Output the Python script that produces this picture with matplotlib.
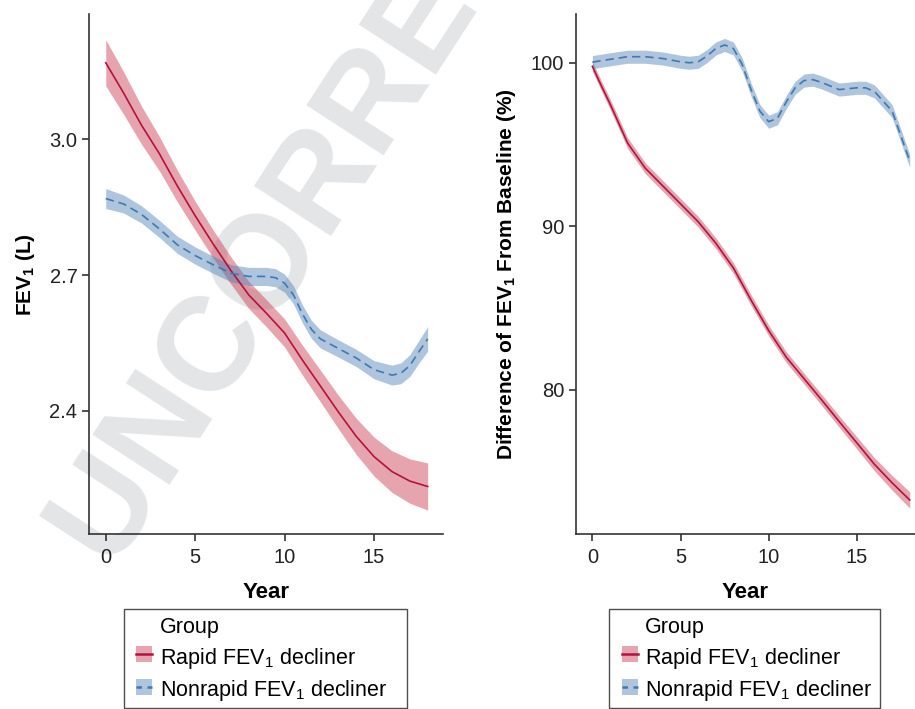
import matplotlib
matplotlib.use("Agg")
import matplotlib.pyplot as plt
from matplotlib.lines import Line2D
from matplotlib.patches import Patch, Rectangle
from matplotlib.legend_handler import HandlerPatch, HandlerTuple
import numpy as np

plt.rcParams['font.family'] = ['Liberation Sans', 'DejaVu Sans']
plt.rcParams['mathtext.default'] = 'regular'

# ---- data ----
# left panel: FEV1 (L)
years_l = [0, 1, 2, 3, 4, 5, 6, 7, 8, 9, 10, 11, 12, 13, 14, 15, 16, 17, 18]
rapid_fev = [3.169, 3.102, 3.031, 2.968, 2.897, 2.831, 2.769, 2.71, 2.656, 2.615,
             2.572, 2.512, 2.455, 2.398, 2.344, 2.299, 2.266, 2.245, 2.233]
rapid_fev_ci = [0.051, 0.047, 0.042, 0.038, 0.035, 0.032, 0.031, 0.03, 0.03, 0.03,
                0.031, 0.033, 0.035, 0.037, 0.04, 0.043, 0.046, 0.049, 0.052]

years_nl = [0, 1, 2, 3, 4, 5, 6, 7, 8, 9, 9.5, 10, 10.5, 11, 11.5, 12, 13, 14, 15, 16,
            16.5, 17, 17.5, 18]
nonrapid_fev = [2.869, 2.857, 2.834, 2.802, 2.767, 2.743, 2.723, 2.704, 2.697, 2.697,
                2.694, 2.682, 2.656, 2.614, 2.58, 2.559, 2.538, 2.517, 2.491, 2.479,
                2.483, 2.5, 2.53, 2.559]
nonrapid_fev_ci = [0.022, 0.02, 0.019, 0.019, 0.019, 0.019, 0.019, 0.019, 0.02, 0.02,
                   0.02, 0.02, 0.02, 0.02, 0.02, 0.02, 0.019, 0.019, 0.02, 0.022,
                   0.023, 0.024, 0.025, 0.027]

# right panel: difference from baseline (%)
years_r = [0, 0.5, 1, 2, 3, 4, 5, 6, 7, 8, 9, 10, 11, 12, 13, 14, 15, 16, 17, 18]
rapid_pct = [99.77, 98.6, 97.48, 95.08, 93.55, 92.46, 91.37, 90.28, 88.97, 87.45, 85.49,
             83.63, 82.0, 80.7, 79.4, 78.07, 76.77, 75.46, 74.33, 73.28]
rapid_pct_ci = [0.3, 0.3, 0.32, 0.33, 0.33, 0.33, 0.33, 0.33, 0.33, 0.33, 0.33,
                0.33, 0.33, 0.33, 0.34, 0.35, 0.37, 0.4, 0.45, 0.5]

years_nr = [0, 1, 2, 3, 4, 5, 5.5, 6, 6.5, 7, 7.5, 8, 8.5, 9, 9.5, 10, 10.5, 11, 11.5,
            12, 12.5, 13, 14, 15, 15.5, 16, 17, 18]
nonrapid_pct = [100.03, 100.2, 100.36, 100.36, 100.25, 100.05, 99.99, 100.05, 100.4,
                100.86, 101.08, 100.86, 99.88, 98.35, 97.04, 96.39, 96.6, 97.6, 98.46,
                98.9, 98.96, 98.79, 98.35, 98.46, 98.46, 98.24, 97.04, 94.0]
nonrapid_pct_ci = 0.4

group_labels = ['Group', r'Rapid FEV$_1$ decliner', r'Nonrapid FEV$_1$ decliner']

red_line = '#b3123f'
red_fill = '#c9394c'
blue_line = '#3d7ab0'
blue_fill = '#4d7fb5'

fig = plt.figure(figsize=(9.15, 7.09), dpi=100)

# watermark behind everything
fig.text(0.1235, 0.192, 'UNCORRECTED PROOF', rotation=57, rotation_mode='anchor',
         ha='left', va='baseline', fontsize=96, fontweight='bold', color='#e4e5e7',
         zorder=-1)

ax1 = fig.add_axes([0.0976, 0.2468, 0.387, 0.733])
ax2 = fig.add_axes([0.6295, 0.2468, 0.3705, 0.733])


def draw(ax, x, y, ci, line_c, fill_c, ls):
    x = np.array(x)
    y = np.array(y)
    ci = np.array(ci)
    ax.fill_between(x, y - ci, y + ci, color=fill_c, alpha=0.45, lw=0)
    ax.plot(x, y, color=line_c, lw=1.2, ls=ls)


draw(ax1, years_l, rapid_fev, rapid_fev_ci, red_line, red_fill, '-')
draw(ax1, years_nl, nonrapid_fev, nonrapid_fev_ci, blue_line, blue_fill, (0, (5, 3)))
draw(ax2, years_r, rapid_pct, rapid_pct_ci, red_line, red_fill, '-')
draw(ax2, years_nr, nonrapid_pct, nonrapid_pct_ci, blue_line, blue_fill, (0, (5, 3)))

ax1.set_xlim(-0.92, 18.88)
ax1.set_ylim(2.128, 3.276)
ax1.set_yticks([2.4, 2.7, 3.0])
ax1.set_yticklabels(['2.4', '2.7', '3.0'])
ax1.set_ylabel(r'FEV$_1$ (L)', fontweight='bold', fontsize=15, labelpad=9)

ax2.set_xlim(-0.93, 18.3)
ax2.set_ylim(71.2, 102.95)
ax2.set_yticks([80, 90, 100])
ax2.set_ylabel(r'Difference of FEV$_1$ From Baseline (%)', fontweight='bold', fontsize=15,
               labelpad=9)


# small square patch inside a taller handle box
def small_patch(legend, orig_handle, xdescent, ydescent, width, height, fontsize):
    h = 11.5
    return Rectangle((-xdescent, (height - ydescent) / 2 - h / 2), width, h)


rapid_h = (Patch(facecolor=red_fill, alpha=0.45, lw=0), Line2D([], [], color=red_line, lw=1.8))
non_h = (Patch(facecolor=blue_fill, alpha=0.45, lw=0),
         Line2D([], [], color=blue_line, lw=1.8, ls=(0, (2.2, 2.2))))
title_h = Line2D([], [], ls='none')

for ax in (ax1, ax2):
    ax.set_facecolor('none')
    ax.set_xticks([0, 5, 10, 15])
    ax.set_xlabel('Year', fontweight='bold', fontsize=16, labelpad=11)
    for s in ('top', 'right'):
        ax.spines[s].set_visible(False)
    for s in ('left', 'bottom'):
        ax.spines[s].set_color('#333333')
        ax.spines[s].set_linewidth(1.2)
    ax.tick_params(labelsize=14.5, length=5, width=1.2, color='#333333', labelcolor='#222222')
    ax.tick_params(axis='x', pad=5)
    leg = ax.legend([title_h, rapid_h, non_h], group_labels,
                    loc='upper left', bbox_to_anchor=(0.098, -0.144, 0.8, 0), mode='expand',
                    fontsize=15.5, frameon=True, fancybox=False, handlelength=1.07,
                    handleheight=1.3, handletextpad=0.35, labelspacing=0.3,
                    borderpad=0.25, borderaxespad=0,
                    handler_map={tuple: HandlerTuple(ndivide=1, xpad=0.33),
                                 Patch: HandlerPatch(patch_func=small_patch)})
    leg.get_frame().set_edgecolor('#222222')
    leg.get_frame().set_linewidth(1.0)

fig.savefig('out.png', dpi=100)
